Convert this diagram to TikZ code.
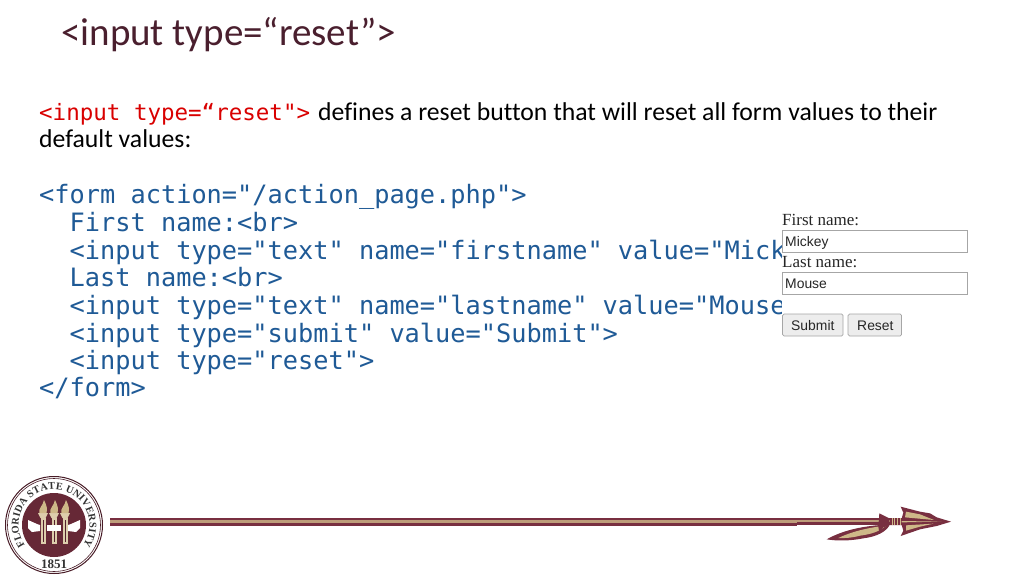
\documentclass[tikz,border=0pt]{standalone}
\usepackage{fontspec}
\setmainfont{Carlito}[Ligatures={NoCommon}]
\setmonofont{DejaVu Sans Mono}
\newfontfamily\formserif{Liberation Serif}
\newfontfamily\formsans{Liberation Sans}
\usetikzlibrary{decorations.text}
\definecolor{garnet}{HTML}{782F40}
\definecolor{gold}{HTML}{CEB888}
\definecolor{codeblue}{HTML}{1F5A96}
\definecolor{titlecol}{HTML}{4A1F2E}
\tikzset{
  title/.style={anchor=base west, inner sep=0pt, font=\fontsize{39}{39}\selectfont, text=titlecol},
  body/.style={anchor=base west, inner sep=0pt, font=\fontsize{25.7}{25.7}\selectfont},
  code/.style={anchor=base west, inner sep=0pt, font=\ttfamily\fontsize{25.3}{25.3}\selectfont, text=codeblue},
  redcode/.style={anchor=base west, inner sep=0pt, font=\ttfamily\fontsize{22.5}{22.5}\selectfont, text=red!85!black},
  formlabel/.style={anchor=base west, inner sep=0pt, font=\formserif\fontsize{17}{17}\selectfont, text=black!85},
  formfield/.style={draw=black!35, line width=0.7pt, fill=white},
  formvalue/.style={anchor=base west, inner sep=0pt, font=\formsans\fontsize{13.9}{13.9}\selectfont, text=black!85},
  formbutton/.style={draw=black!35, line width=0.7pt, fill=black!7, rounded corners=1.5pt},
}
\begin{document}
\begin{tikzpicture}[x=1pt, y=-1pt]
\useasboundingbox (0,0) rectangle (1024,576);
\fill[white] (0,0) rectangle (1024,576);
\node[title] (heading) at (61,45) {<input type=“reset”>};
\node[redcode] (tagname) at (39,120) {<input type=“reset">};
\node[body] (intro) at (318,120.7) {defines a reset button that will reset all form values to their};
\node[body] (introb) at (39,147.7) {default values:};
% code lines
\node[code] (l1) at (39,203.7) {<form action="/action\_page.php">};
\node[code] (l2) at (39,231.5) {\ \ First name:<br>};
\node[code] (l3) at (39,259) {\ \ <input type="text" name="firstname" value="Mickey">};
\node[code] (l4) at (39,286.7) {\ \ Last name:<br>};
\node[code] (l5) at (39,314.5) {\ \ <input type="text" name="lastname" value="Mouse">};
\node[code] (l6) at (39,342) {\ \ <input type="submit" value="Submit">};
\node[code] (l7) at (39,369.7) {\ \ <input type="reset">};
\node[code] (l8) at (39,396.7) {</form>};
% form screenshot
\fill[white] (782,205) rectangle (975,345);
\node[formlabel] (first) at (782,225) {First name:};
\draw[formfield] (782,230.5) rectangle (967,252);
\node[formvalue] (mickey) at (785,246) {Mickey};
\node[formlabel] (last) at (782,267) {Last name:};
\draw[formfield] (782,272.5) rectangle (967,294);
\node[formvalue] (mouse) at (785,288) {Mouse};
\draw[formbutton] (782.5,314) rectangle (843,336);
\node[formvalue] (submit) at (791,330) {Submit};
\draw[formbutton] (848,314) rectangle (901.5,336);
\node[formvalue] (reset) at (857,330) {Reset};
% spear shaft
\fill[garnet] (110,517.5) rectangle (797,525.5);
\fill[gold!80!garnet] (110,520.3) rectangle (797,522.5);
\fill[garnet] (797,518) rectangle (905,524.5);
\fill[gold!80!garnet] (797,520.3) rectangle (905,521.8);
% feather
\begin{scope}[shift={(780,495)}, x=0.3333pt, y=-0.3333pt]
\fill[garnet] (140,133) .. controls (190,105) and (250,92) .. (330,88) .. controls (320,110) and (290,125) .. (250,130) .. controls (210,138) and (170,138) .. (140,133) -- cycle;
\fill[gold] (175,129) .. controls (210,112) and (260,98) .. (318,92) .. controls (300,110) and (270,118) .. (240,122) .. controls (220,128) and (195,130) .. (175,129) -- cycle;
\end{scope}
% barb and head
\begin{scope}[shift={(870,500)}, x=0.3333pt, y=-0.3333pt]
\fill[garnet] (28,40) -- (58,55) -- (58,75) -- (40,82) -- (28,100) -- (25,80) -- cycle;
\fill[garnet] (243,65) -- (200,52) -- (180,40) -- (150,35) -- (92,20) -- (100,38) -- (95,55) -- (60,55) -- (60,75) -- (95,75) -- (100,92) -- (92,108) -- (150,88) -- (200,78) -- cycle;
\fill[gold] (105,52) -- (108,35) -- (150,43) -- (192,60) -- cycle;
\fill[gold] (108,76) -- (108,92) -- (150,80) -- (190,71) -- cycle;
\fill[gold] (95,63) -- (215,65) -- (95,67) -- cycle;
\foreach \bx in {65,72,82,89} \fill[gold] (\bx,55) rectangle (\bx+3,75);
\end{scope}
% seal
\begin{scope}[shift={(54,525)}]
\draw[garnet!60!black, line width=1pt, fill=white] (0,0) circle (48.5);
\draw[garnet!60!black, line width=0.6pt] (0,0) circle (46.5);
\fill[garnet!85!black] (0,0) circle (32);
\begin{scope}[y=1pt]
\path[decorate, decoration={text along path, text align={fit to path}, text={|\formserif\fontsize{10.3}{10.3}\selectfont\bfseries\color{black!80}|FLORIDA STATE UNIVERSITY}}]
  (215:35.5) arc[start angle=215, end angle=-35, radius=35.5];
\end{scope}
\node[inner sep=0pt, font=\formserif\fontsize{13}{13}\selectfont\bfseries, text=black!80] (year) at (0,39) {1851};
% torches
\foreach \tx in {-11,0,11} {
  \fill[gold!70!white] (\tx-2.5,-7) rectangle (\tx+2.5,19);
  \fill[garnet!70!black] (\tx-0.5,-5) rectangle (\tx+0.5,17);
  \fill[gold!70!white] (\tx-5,-12) -- (\tx+5,-12) -- (\tx+2.5,-7) -- (\tx-2.5,-7) -- cycle;
  \fill[gold] (\tx-3.5,-12) .. controls (\tx-5,-17) and (\tx,-19) .. (\tx+1,-25) .. controls (\tx+4,-19) and (\tx+4.5,-16) .. (\tx+3.5,-12) -- cycle;
}
\fill[white] (-26,-5) -- (-17,-1) -- (-14,0) -- (-14,6) -- (-22,7) -- (-26,3) -- cycle;
\fill[white] (26,-5) -- (17,-1) -- (14,0) -- (14,6) -- (22,7) -- (26,3) -- cycle;
\fill[white] (-7,0) rectangle (7,6);
\end{scope}
\end{tikzpicture}
\end{document}
